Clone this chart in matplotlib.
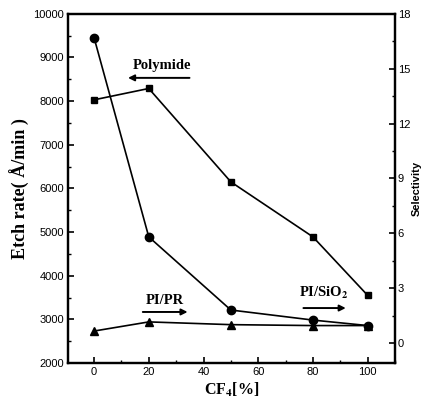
import matplotlib
matplotlib.use("Agg")
import matplotlib.pyplot as plt
from matplotlib.ticker import MultipleLocator

cf4 = [0, 20, 50, 80, 100]
etch_polymide = [8030, 8290, 6150, 4890, 3550]
sel_pi_sio2 = [16.7, 5.8, 1.8, 1.25, 0.95]
sel_pi_pr = [0.65, 1.15, 1.0, 0.95, 0.95]

serif = ["Liberation Serif", "DejaVu Serif"]
sans = ["Liberation Sans", "DejaVu Sans"]
plt.rcParams["font.family"] = sans
plt.rcParams["mathtext.fontset"] = "stix"

fig = plt.figure(figsize=(4.28, 4.07), dpi=100)
ax = fig.add_axes([0.159, 0.108, 0.764, 0.858])
ax2 = ax.twinx()

ax.plot(cf4, etch_polymide, color="black", lw=1.2, marker="s", ms=5)
ax2.plot(cf4, sel_pi_sio2, color="black", lw=1.2, marker="o", ms=6)
ax2.plot(cf4, sel_pi_pr, color="black", lw=1.2, marker="^", ms=6)

ax.set_xlim(-9.5, 110)
ax.set_ylim(2000, 10000)
ax2.set_ylim(-1.1, 18)

ax.xaxis.set_major_locator(MultipleLocator(20))
ax.xaxis.set_minor_locator(MultipleLocator(10))
ax.yaxis.set_major_locator(MultipleLocator(1000))
ax.yaxis.set_minor_locator(MultipleLocator(500))
ax2.yaxis.set_major_locator(MultipleLocator(3))
ax2.yaxis.set_minor_locator(MultipleLocator(1.5))

for a in (ax, ax2):
    a.tick_params(which="major", direction="in", length=4, width=1.2, labelsize=8, pad=3)
    a.tick_params(which="minor", direction="in", length=2, width=1)
    for s in a.spines.values():
        s.set_linewidth(1.6)
ax.tick_params(top=False, right=False)
ax.tick_params(which="minor", top=False, right=False)
ax2.tick_params(axis="y", pad=2)

ax.set_xlabel("CF$_\\mathbf{4}$[%]", family=serif, fontsize=11.5, fontweight="bold", labelpad=3)
ax.set_ylabel("Etch rate( Å/min )", family=serif, fontsize=13, fontweight="bold", labelpad=2)
ax2.set_ylabel("Selectivity", family=sans, fontsize=8, fontweight="bold", labelpad=1)

ax.text(24.9, 8808, "Polymide", family=serif, fontsize=10.5, fontweight="bold", ha="center", va="center")
ax.annotate("", xy=(11.4, 8533), xytext=(35.9, 8533),
            arrowprops=dict(arrowstyle="-|>", color="black", lw=1.4, mutation_scale=9))
ax.text(26, 3444, "PI/PR", family=serif, fontsize=10.5, fontweight="bold", ha="center", va="center")
ax.annotate("", xy=(35.2, 3170), xytext=(16.8, 3170),
            arrowprops=dict(arrowstyle="-|>", color="black", lw=1.4, mutation_scale=9))
ax.text(83.9, 3605, "PI/SiO$_\\mathbf{2}$", family=serif, fontsize=10.5, fontweight="bold", ha="center", va="center")
ax.annotate("", xy=(93, 3260), xytext=(75.5, 3260),
            arrowprops=dict(arrowstyle="-|>", color="black", lw=1.4, mutation_scale=9))

fig.savefig("out.png", dpi=100)
